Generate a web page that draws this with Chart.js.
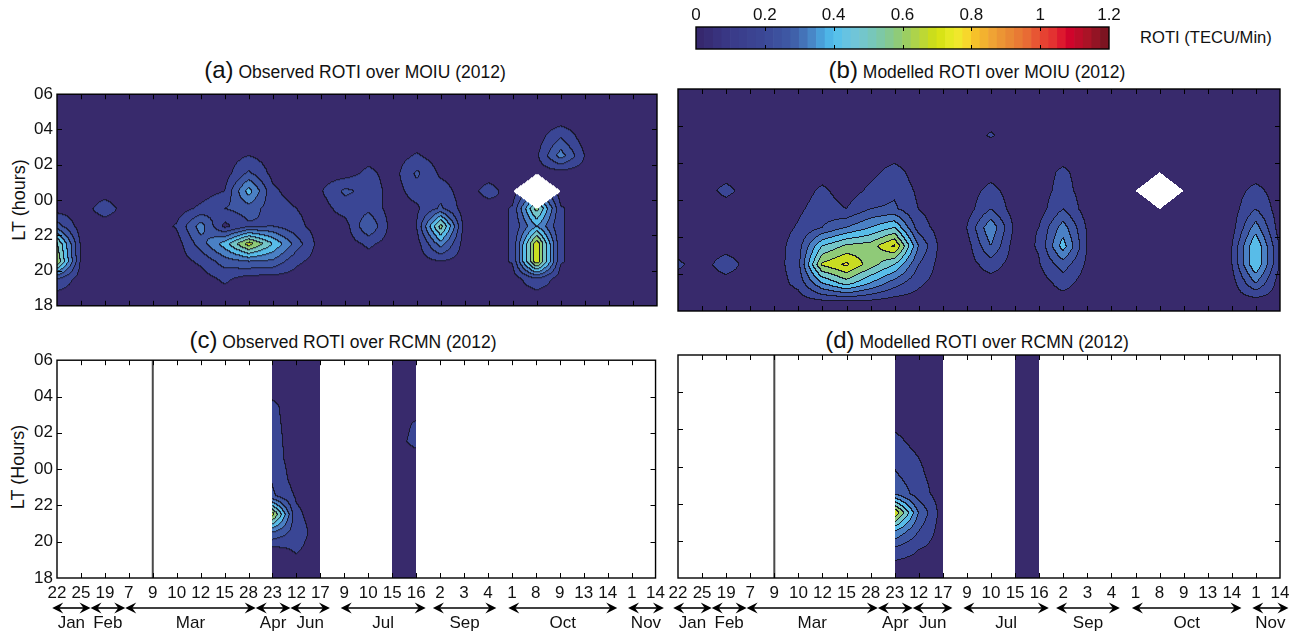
<!DOCTYPE html>
<html>
<head>
<meta charset="utf-8">
<script src="https://cdn.jsdelivr.net/npm/chart.js@4.4.1/dist/chart.umd.min.js"></script>
<style>
  body { margin:0; background:#fff; width:1298px; height:631px; overflow:hidden; position:relative;
         font-family:'Liberation Sans', Arial, Helvetica, sans-serif; color:#111; }
  .box { position:absolute; }
  .title { position:absolute; font-size:17.5px; line-height:28px; white-space:nowrap; transform:translateX(-50%); }
  .title span { font-size:24px; }
  .ylab { position:absolute; font-size:18px; white-space:nowrap; transform:translate(-50%,-50%) rotate(-90deg); }
</style>
</head>
<body>
<div class="box" style="left:680px;top:0;width:450px;height:56px"><canvas id="cbar"></canvas></div>
<div style="position:absolute;left:1140px;top:28px;font-size:16.6px;line-height:20px">ROTI (TECU/Min)</div>

<div class="title" style="left:355px;top:56px"><span>(a)</span> Observed ROTI over MOIU (2012)</div>
<div class="title" style="left:977px;top:56px"><span>(b)</span> Modelled ROTI over MOIU (2012)</div>
<div class="title" style="left:343px;top:326px"><span>(c)</span> Observed ROTI over RCMN (2012)</div>
<div class="title" style="left:977px;top:326px"><span>(d)</span> Modelled ROTI over RCMN (2012)</div>
<div class="ylab" style="left:19px;top:200px">LT (hours)</div>
<div class="ylab" style="left:18px;top:467px">LT (Hours)</div>

<div class="box" style="left:0;top:80px;width:670px;height:240px"><canvas id="pa"></canvas></div>
<div class="box" style="left:660px;top:80px;width:638px;height:240px"><canvas id="pb"></canvas></div>
<div class="box" style="left:0;top:346px;width:670px;height:285px"><canvas id="pc"></canvas></div>
<div class="box" style="left:660px;top:346px;width:638px;height:285px"><canvas id="pd"></canvas></div>

<script>
const FONT = "'Liberation Sans', Arial, Helvetica, sans-serif";
const TICK_PX = 17;

// x axis: sample days (one column each)
const dayLabels = ['22','25','19','7','9','10','12','15','28','23','12','17','9','10','15','16','2','3','4','1','8','9','13','14','1','14'];
const months    = ['Jan','Feb','Mar','Apr','Jun','Jul','Sep','Oct','Nov'];
const monthFrom = [-0.2, 1.4, 2.85, 8.3, 9.75, 11.85, 15.7, 18.85, 23.85];
const monthTo   = [1.4, 2.85, 8.3, 9.75, 11.4, 15.4, 18.35, 23.4, 25.35];

// y axis: LT rows (hours after 18, 24 = midnight)
const ltRows = [18.5, 19.5, 20.5, 21.5, 22.5, 23.5, 24.5, 25.5, 26.5, 27.5, 28.5, 29.5];

// ROTI grids, one row per LT (18:30 first), one value per day column, null = no data
const o = 0.05, _ = null;
const rotiObsMOIU = [
  [o,o,o,o,o,o,o,o,o,o,o,o,o,o,o,o,o,o,o,o,o,o,o,o,o,o],
  [.20,o,o,o,o,o,o,.12,o,o,o,o,o,o,o,o,o,o,o,o,.18,o,o,o,o,o],
  [.70,.09,o,o,o,o,.12,.25,.30,.28,.12,o,o,o,o,o,.10,o,o,.11,.78,.11,o,o,o,o],
  [.62,.09,o,o,o,o,.25,.45,.75,.50,.25,o,o,.12,o,o,.35,o,o,.11,.78,.11,o,o,o,o],
  [.25,o,o,o,o,.11,.35,.07,.18,.20,.13,o,o,.30,o,.10,.65,o,o,.11,.40,.11,o,o,o,o],
  [o,o,.15,o,o,o,.12,.20,.25,.15,.10,o,.15,.17,o,.08,.22,o,o,.11,.65,.11,o,o,o,o],
  [o,o,o,o,o,o,o,.10,.45,.12,o,.09,.22,.17,o,.15,.15,o,.14,o,_,o,o,o,o,o],
  [o,o,o,o,o,o,o,o,.22,.07,o,o,o,.13,o,.22,.08,o,o,o,o,o,o,o,o,o],
  [o,o,o,o,o,o,o,o,.10,o,o,o,o,o,o,.11,o,o,o,o,.08,.35,.10,o,o,o],
  [o,o,o,o,o,o,o,o,o,o,o,o,o,o,o,o,o,o,o,o,o,.20,o,o,o,o],
  [o,o,o,o,o,o,o,o,o,o,o,o,o,o,o,o,o,o,o,o,o,o,o,o,o,o],
  [o,o,o,o,o,o,o,o,o,o,o,o,o,o,o,o,o,o,o,o,o,o,o,o,o,o]
];
const rotiModMOIU = [
  [o,o,o,o,o,o,.08,.09,.08,o,o,o,o,o,o,o,o,o,o,o,o,o,o,o,o,o],
  [o,o,o,o,o,.13,.40,.55,.40,.25,.12,o,o,o,o,o,.14,o,o,o,o,o,o,o,.30,o],
  [.12,o,.16,o,o,.16,.72,.82,.65,.50,.20,o,o,.15,o,.09,.25,.08,o,o,o,o,o,.09,.50,.09],
  [o,o,o,o,o,.15,.50,.62,.65,.82,.30,o,o,.30,o,.11,.45,.10,o,o,o,o,o,.09,.50,.09],
  [o,o,o,o,o,.11,.20,.30,.40,.50,.15,o,.10,.38,.08,.10,.35,.09,o,o,o,o,o,o,.35,o],
  [o,o,o,o,o,.08,.15,.10,.20,.22,.10,o,o,.20,o,o,.20,o,o,o,o,o,o,o,.20,o],
  [o,o,.13,o,o,o,.12,o,.12,.18,.08,o,o,.13,o,o,.14,o,o,o,_,o,o,o,.13,o],
  [o,o,o,o,o,o,o,o,.07,.14,o,o,o,.06,o,o,.12,o,o,o,o,o,o,o,o,o],
  [o,o,o,o,o,o,o,o,o,o,o,o,o,o,o,o,o,o,o,o,o,o,o,o,o,o],
  [o,o,o,o,o,o,o,o,o,o,o,o,o,.11,o,o,o,o,o,o,o,o,o,o,o,o],
  [o,o,o,o,o,o,o,o,o,o,o,o,o,o,o,o,o,o,o,o,o,o,o,o,o,o],
  [o,o,o,o,o,o,o,o,o,o,o,o,o,o,o,o,o,o,o,o,o,o,o,o,o,o]
];
const rotiObsRCMN = [
  [_,_,_,_,o,_,_,_,_,o,o,o,_,_,o,o,_,_,_,_,_,_,_,_,_,_],
  [_,_,_,_,o,_,_,_,_,o,.11,o,_,_,o,o,_,_,_,_,_,_,_,_,_,_],
  [_,_,_,_,o,_,_,_,_,.30,.15,o,_,_,o,o,_,_,_,_,_,_,_,_,_,_],
  [_,_,_,_,o,_,_,_,_,.75,.12,o,_,_,o,o,_,_,_,_,_,_,_,_,_,_],
  [_,_,_,_,o,_,_,_,_,.22,.09,o,_,_,o,o,_,_,_,_,_,_,_,_,_,_],
  [_,_,_,_,o,_,_,_,_,.19,o,o,_,_,o,o,_,_,_,_,_,_,_,_,_,_],
  [_,_,_,_,o,_,_,_,_,.15,o,o,_,_,o,o,_,_,_,_,_,_,_,_,_,_],
  [_,_,_,_,o,_,_,_,_,.14,o,o,_,_,o,.13,_,_,_,_,_,_,_,_,_,_],
  [_,_,_,_,o,_,_,_,_,.13,o,o,_,_,o,.11,_,_,_,_,_,_,_,_,_,_],
  [_,_,_,_,o,_,_,_,_,.12,o,o,_,_,o,o,_,_,_,_,_,_,_,_,_,_],
  [_,_,_,_,o,_,_,_,_,o,o,o,_,_,o,o,_,_,_,_,_,_,_,_,_,_],
  [_,_,_,_,o,_,_,_,_,o,o,o,_,_,o,o,_,_,_,_,_,_,_,_,_,_]
];
const rotiModRCMN = [
  [_,_,_,_,o,_,_,_,_,o,o,o,_,_,o,o,_,_,_,_,_,_,_,_,_,_],
  [_,_,_,_,o,_,_,_,_,.17,.10,o,_,_,o,o,_,_,_,_,_,_,_,_,_,_],
  [_,_,_,_,o,_,_,_,_,.40,.20,o,_,_,o,o,_,_,_,_,_,_,_,_,_,_],
  [_,_,_,_,o,_,_,_,_,.80,.30,o,_,_,o,o,_,_,_,_,_,_,_,_,_,_],
  [_,_,_,_,o,_,_,_,_,.30,.15,o,_,_,o,o,_,_,_,_,_,_,_,_,_,_],
  [_,_,_,_,o,_,_,_,_,.22,.12,o,_,_,o,o,_,_,_,_,_,_,_,_,_,_],
  [_,_,_,_,o,_,_,_,_,.16,.10,o,_,_,o,o,_,_,_,_,_,_,_,_,_,_],
  [_,_,_,_,o,_,_,_,_,.12,.06,o,_,_,o,o,_,_,_,_,_,_,_,_,_,_],
  [_,_,_,_,o,_,_,_,_,.06,o,o,_,_,o,o,_,_,_,_,_,_,_,_,_,_],
  [_,_,_,_,o,_,_,_,_,o,o,o,_,_,o,o,_,_,_,_,_,_,_,_,_,_],
  [_,_,_,_,o,_,_,_,_,o,o,o,_,_,o,o,_,_,_,_,_,_,_,_,_,_],
  [_,_,_,_,o,_,_,_,_,o,o,o,_,_,o,o,_,_,_,_,_,_,_,_,_,_]
];

// contour levels (0.1 apart) and their fill colours
const levelStep = 0.1;
const levelColors = ['#382a6c','#3a4695','#3e57a3','#4a80c4','#58bce8','#74c5c8',
                     '#8fca78','#c9dc22','#f3d52a','#ec9430','#e84e30','#c8102a'];

// colour bar
const cbarMax = 1.2, cbarStep = 0.025;
const cmapStops = [
  [0,'#35256a'],[0.1,'#3a3a88'],[0.2,'#3b4896'],[0.28,'#3f5ba6'],[0.33,'#4780c2'],[0.37,'#4aa6de'],
  [0.4,'#50c0ee'],[0.45,'#6ec4de'],[0.5,'#74c6c4'],[0.55,'#80c89c'],[0.6,'#94cc6c'],[0.65,'#b6d540'],
  [0.7,'#d2e010'],[0.75,'#ecec2a'],[0.78,'#f6e02e'],[0.8,'#f8c828'],[0.86,'#f0a434'],[0.92,'#e88434'],
  [0.97,'#e86634'],[1.0,'#e64a32'],[1.05,'#e22a30'],[1.08,'#d6022c'],[1.14,'#a81426'],[1.2,'#701420']
];

function hexRgb(h) { const n = parseInt(h.slice(1), 16); return [n >> 16 & 255, n >> 8 & 255, n & 255]; }

function cmap(v) {
  for (let i = 1; i < cmapStops.length; i++) {
    const [v1, c1] = cmapStops[i];
    if (v <= v1) {
      const [v0, c0] = cmapStops[i - 1];
      const t = (v - v0) / (v1 - v0), a = hexRgb(c0), b = hexRgb(c1);
      return `rgb(${a.map((x, k) => Math.round(x + (b[k] - x) * t)).join(',')})`;
    }
  }
  return cmapStops[cmapStops.length - 1][1];
}

// filled contours drawn pixel by pixel through the chart scales
const contourPlugin = {
  id: 'contour',
  beforeDatasetsDraw(chart, args, opts) {
    const grid = opts.grid;
    if (!grid) return;
    const { ctx, chartArea: area } = chart;
    const xs = chart.scales.x, ys = chart.scales.y;
    const w = Math.round(area.right - area.left), h = Math.round(area.bottom - area.top);
    const nc = dayLabels.length, nr = ltRows.length;
    const lev = new Int16Array(w * h);
    const cols = [];
    for (let i = 0; i < w; i++) {
      let c = xs.getValueForPixel(area.left + i + 0.5);
      cols.push(Math.min(Math.max(c, 0), nc - 1));
    }
    for (let j = 0; j < h; j++) {
      let r = (ys.getValueForPixel(area.top + j + 0.5) - ltRows[0]) / (ltRows[1] - ltRows[0]);
      r = Math.min(Math.max(r, 0), nr - 1);
      const r0 = Math.min(Math.floor(r), nr - 2), fr = r - r0;
      for (let i = 0; i < w; i++) {
        const c = cols[i];
        const c0 = Math.min(Math.floor(c), nc - 2), fc = c - c0;
        const a = grid[r0][c0], b = grid[r0][c0 + 1], d = grid[r0 + 1][c0], e = grid[r0 + 1][c0 + 1];
        let gap = (a === null && b === null) || (d === null && e === null) ||
                  (a === null && d === null) || (b === null && e === null);
        if (a === null && fc + fr < 1) gap = true;
        if (b === null && (1 - fc) + fr < 1) gap = true;
        if (d === null && fc + (1 - fr) < 1) gap = true;
        if (e === null && (1 - fc) + (1 - fr) < 1) gap = true;
        const ok = [a, b, d, e].filter(v => v !== null);
        if (gap || !ok.length) { lev[j * w + i] = -1; continue; }
        const fill = ok.reduce((s, v) => s + v, 0) / ok.length;
        const v = (a ?? fill) * (1 - fc) * (1 - fr) + (b ?? fill) * fc * (1 - fr) +
                  (d ?? fill) * (1 - fc) * fr + (e ?? fill) * fc * fr;
        lev[j * w + i] = Math.min(levelColors.length - 1, Math.floor(v / levelStep + 1e-9));
      }
    }
    const rgb = levelColors.map(hexRgb);
    const off = document.createElement('canvas');
    off.width = w; off.height = h;
    const octx = off.getContext('2d');
    const img = octx.createImageData(w, h);
    for (let j = 0; j < h; j++) {
      for (let i = 0; i < w; i++) {
        const k = lev[j * w + i];
        if (k < 0) continue;
        const right = i + 1 < w ? lev[j * w + i + 1] : k;
        const below = j + 1 < h ? lev[(j + 1) * w + i] : k;
        const edge = (right >= 0 && right !== k) || (below >= 0 && below !== k);
        const col = edge ? [22, 22, 40] : rgb[k];
        const p = (j * w + i) * 4;
        img.data[p] = col[0]; img.data[p + 1] = col[1]; img.data[p + 2] = col[2]; img.data[p + 3] = 255;
      }
    }
    octx.putImageData(img, 0, 0);
    ctx.drawImage(off, area.left, area.top);

    // columns with data but no neighbours collapse into a line
    ctx.save();
    ctx.strokeStyle = '#4a4a4a';
    ctx.lineWidth = 2;
    ctx.beginPath();
    for (let c = 1; c < nc - 1; c++) {
      for (let r = 0; r < nr; r++) {
        if (grid[r][c] !== null && grid[r][c - 1] === null && grid[r][c + 1] === null) {
          const x = xs.getPixelForValue(c);
          const y1 = r === 0 ? area.bottom : ys.getPixelForValue(ltRows[r] - 0.5);
          const y2 = r === nr - 1 ? area.top : ys.getPixelForValue(ltRows[r] + 0.5);
          ctx.moveTo(x, y1); ctx.lineTo(x, y2);
        }
      }
    }
    ctx.stroke();
    ctx.restore();
  }
};

// frame and inward tick marks
const framePlugin = {
  id: 'frame',
  afterDraw(chart, args, opts) {
    const { ctx, chartArea: a } = chart;
    const xs = chart.scales.x, ys = chart.scales.y;
    const t = opts.tick || 5;
    ctx.save();
    ctx.strokeStyle = '#000';
    ctx.lineWidth = 1;
    ctx.beginPath();
    for (const v of opts.xTicks || []) {
      const p = Math.round(xs.getPixelForValue(v)) + 0.5;
      ctx.moveTo(p, a.top); ctx.lineTo(p, a.top + t);
      ctx.moveTo(p, a.bottom); ctx.lineTo(p, a.bottom - t);
    }
    for (const v of opts.yTicks || []) {
      const p = Math.round(ys.getPixelForValue(v)) + 0.5;
      ctx.moveTo(a.left, p); ctx.lineTo(a.left + t, p);
      ctx.moveTo(a.right, p); ctx.lineTo(a.right - t, p);
    }
    ctx.stroke();
    ctx.lineWidth = 1.4;
    ctx.strokeRect(a.left, a.top, a.right - a.left, a.bottom - a.top);
    ctx.restore();
  }
};

function arrowHead(ctx, x, y, dir) {
  ctx.beginPath();
  ctx.moveTo(x, y);
  ctx.lineTo(x + dir * 11, y - 5.5);
  ctx.lineTo(x + dir * 7, y);
  ctx.lineTo(x + dir * 11, y + 5.5);
  ctx.closePath();
  ctx.fill();
}

// month spans under the day labels
const monthPlugin = {
  id: 'months',
  afterDraw(chart, args, opts) {
    if (!opts.show) return;
    const { ctx, chartArea } = chart;
    const xs = chart.scales.x;
    const yA = chartArea.bottom + 30, yL = chartArea.bottom + 50;
    ctx.save();
    ctx.fillStyle = '#000';
    ctx.strokeStyle = '#000';
    ctx.lineWidth = 1.6;
    ctx.font = `${TICK_PX}px ${FONT}`;
    ctx.textAlign = 'center';
    ctx.textBaseline = 'alphabetic';
    months.forEach((m, i) => {
      const x1 = xs.getPixelForValue(monthFrom[i]), x2 = xs.getPixelForValue(monthTo[i]);
      ctx.beginPath(); ctx.moveTo(x1 + 6, yA); ctx.lineTo(x2 - 6, yA); ctx.stroke();
      arrowHead(ctx, x1, yA, 1);
      arrowHead(ctx, x2, yA, -1);
      ctx.fillStyle = '#111';
      ctx.fillText(m, (x1 + x2) / 2, yL);
      ctx.fillStyle = '#000';
    });
    ctx.restore();
  }
};

function panel(id, grid, opt) {
  return new Chart(document.getElementById(id), {
    type: 'scatter',
    data: { datasets: [] },
    options: {
      animation: false, responsive: true, maintainAspectRatio: false, devicePixelRatio: 1,
      layout: { padding: opt.padding },
      plugins: {
        legend: { display: false }, tooltip: { enabled: false },
        contour: { grid },
        frame: { xTicks: dayLabels.map((d, i) => i).slice(1, -1), yTicks: [20, 22, 24, 26, 28], tick: 5 },
        months: { show: opt.xLabels }
      },
      scales: {
        x: {
          type: 'linear', min: 0, max: dayLabels.length - 1, display: opt.xLabels,
          grid: { display: false, drawTicks: false }, border: { display: false },
          ticks: { stepSize: 1, autoSkip: false, maxRotation: 0, padding: 5, color: '#111',
                   font: { size: TICK_PX, family: FONT }, callback: v => dayLabels[v] },
          afterFit: s => { if (s.options.display) s.height = 53; }
        },
        y: {
          type: 'linear', min: 18, max: 30, display: opt.yLabels,
          grid: { display: false, drawTicks: false }, border: { display: false },
          ticks: { stepSize: 2, padding: 4, color: '#111', font: { size: TICK_PX, family: FONT },
                   callback: v => String(v % 24).padStart(2, '0') },
          afterFit: s => { if (s.options.display) s.width = 57; }
        }
      }
    },
    plugins: [contourPlugin, framePlugin, monthPlugin]
  });
}

panel('pa', rotiObsMOIU, { padding: { left: 0, right: 13, top: 9, bottom: 9 }, xLabels: false, yLabels: true });
panel('pb', rotiModMOIU, { padding: { left: 18, right: 18, top: 9, bottom: 9 }, xLabels: false, yLabels: false });
panel('pc', rotiObsRCMN, { padding: { left: 0, right: 13, top: 9, bottom: 0 }, xLabels: true, yLabels: true });
panel('pd', rotiModRCMN, { padding: { left: 18, right: 18, top: 9, bottom: 0 }, xLabels: true, yLabels: false });

// colour bar as floating bars along 0..1.2
const bandLo = [];
for (let k = 0; k * cbarStep < cbarMax - 1e-9; k++) bandLo.push(+(k * cbarStep).toFixed(3));

new Chart(document.getElementById('cbar'), {
  type: 'bar',
  data: {
    labels: ['ROTI'],
    datasets: [{
      data: bandLo.map(lo => ({ y: 'ROTI', x: [lo, lo + cbarStep] })),
      backgroundColor: bandLo.map(lo => cmap(lo + cbarStep / 2)),
      borderWidth: 0, barPercentage: 1, categoryPercentage: 1
    }]
  },
  options: {
    indexAxis: 'y', animation: false, responsive: true, maintainAspectRatio: false, devicePixelRatio: 1,
    layout: { padding: { left: 16, right: 21, top: 0, bottom: 7 } },
    plugins: {
      legend: { display: false }, tooltip: { enabled: false },
      frame: { xTicks: [0.2, 0.4, 0.6, 0.8, 1.0], tick: 4 }
    },
    scales: {
      x: {
        type: 'linear', position: 'top', min: 0, max: cbarMax,
        grid: { display: false, drawTicks: false }, border: { display: false },
        ticks: { stepSize: 0.2, padding: 1, color: '#111', font: { size: TICK_PX, family: FONT },
                 callback: v => String(+v.toFixed(1)) },
        afterFit: s => { s.height = 27; }
      },
      y: { display: false }
    }
  },
  plugins: [framePlugin]
});
</script>
</body>
</html>
